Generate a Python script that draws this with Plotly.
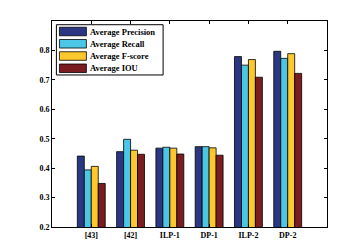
import plotly.graph_objects as go

categories = ["[43]", "[42]", "ILP-1", "DP-1", "ILP-2", "DP-2"]
precision = [0.441, 0.456, 0.468, 0.473, 0.779, 0.797]
recall = [0.394, 0.498, 0.471, 0.473, 0.750, 0.773]
fscore = [0.406, 0.461, 0.468, 0.469, 0.769, 0.789]
iou = [0.348, 0.447, 0.448, 0.444, 0.709, 0.722]

series = [
    ("Average Precision", precision, "#2c3784"),
    ("Average Recall", recall, "#4cc6e6"),
    ("Average F-score", fscore, "#fdc72e"),
    ("Average IOU", iou, "#7a1c20"),
]

xpos = list(range(1, len(categories) + 1))
bold = dict(family="Liberation Serif", size=8, color="black", weight="bold")
legend_font = dict(family="Liberation Serif", size=8.5, color="black", weight="bold")

fig = go.Figure()
for name, vals, col in series:
    fig.add_trace(go.Bar(
        x=xpos, y=vals, name=name, showlegend=False,
        marker=dict(color=col, line=dict(color="black", width=0.8)),
    ))

# custom legend (paper coordinates of the plot area)
shapes = [dict(type="rect", xref="paper", yref="paper",
               x0=0.016, x1=0.404, y0=0.738, y1=0.982,
               line=dict(color="black", width=1), fillcolor="white", layer="above")]
annotations = []
row_h = 0.0595
for i, (name, vals, col) in enumerate(series):
    yc = 0.949 - i * row_h
    shapes.append(dict(type="rect", xref="paper", yref="paper",
                       x0=0.027, x1=0.125, y0=yc - 0.0207, y1=yc + 0.0207,
                       line=dict(color="black", width=0.8), fillcolor=col, layer="above"))
    annotations.append(dict(xref="paper", yref="paper", x=0.131, y=yc,
                            xanchor="left", yanchor="middle", text=name,
                            showarrow=False, font=legend_font))

fig.update_layout(
    width=350, height=244,
    margin=dict(l=44, r=31, t=13, b=21),
    paper_bgcolor="white", plot_bgcolor="white",
    barmode="group", bargap=0.29, bargroupgap=0,
    font=bold, showlegend=False,
    shapes=shapes, annotations=annotations,
    xaxis=dict(
        range=[0, 7], tickvals=xpos, ticktext=categories,
        showline=True, linecolor="black", linewidth=1, mirror="ticks",
        ticks="inside", ticklen=3, tickcolor="black", showgrid=False,
        tickfont=bold,
    ),
    yaxis=dict(
        range=[0.2, 0.9], tickvals=[0.2, 0.3, 0.4, 0.5, 0.6, 0.7, 0.8],
        ticktext=["0.2", "0.3", "0.4", "0.5", "0.6", "0.7", "0.8"],
        showline=True, linecolor="black", linewidth=1, mirror="ticks",
        ticks="inside", ticklen=3, tickcolor="black", showgrid=False,
        zeroline=False, tickfont=bold,
    ),
)

fig.write_html("out.html")
